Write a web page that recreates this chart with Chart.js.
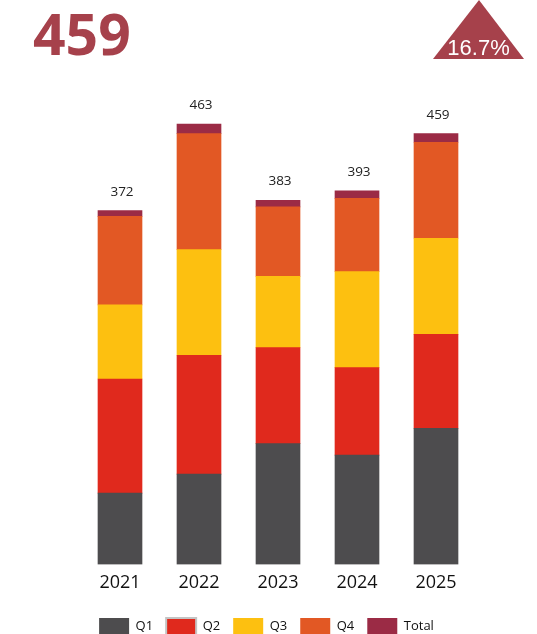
<!DOCTYPE html>
<html>
<head>
<meta charset="utf-8">
<style>
html,body{margin:0;padding:0;background:#fff;overflow:hidden;}
#wrap{position:relative;width:537px;height:645px;}
</style>
<script src="https://cdn.jsdelivr.net/npm/chart.js@4/dist/chart.umd.min.js"></script>
</head>
<body>
<div id="wrap"><canvas id="c" width="537" height="645"></canvas></div>
<script>
const years = ['2021', '2022', '2023', '2024', '2025'];
const q1 = [75, 95, 127, 115, 143];
const q2 = [120, 125, 101, 92, 99];
const q3 = [78, 111, 75, 101, 101];
const q4 = [93, 122, 73, 77, 101];
const totalCap = [6, 10, 7, 8, 9];
const totals = [372, 463, 383, 393, 459];
const headline = '459';
const change = '16.7%';

const colors = {
  q1: '#4d4c4e', q2: '#e0291d', q3: '#fdc010', q4: '#e25824', total: '#9b2b45', accent: '#a6414b'
};

const extras = {
  id: 'extras',
  afterLayout(chart) {
    const lg = chart.legend;
    if (lg) { lg.left -= 11.5; lg.right -= 11.5; }
  },
  afterDraw(chart) {
    const ctx = chart.ctx;
    ctx.save();
    ctx.fillStyle = colors.accent;
    ctx.font = 'bold 57px "Open Sans"';
    ctx.textAlign = 'left';
    ctx.textBaseline = 'alphabetic';
    ctx.fillText(headline, 33, 55);
    ctx.beginPath();
    ctx.moveTo(479, 0);
    ctx.lineTo(524, 59);
    ctx.lineTo(433, 59);
    ctx.closePath();
    ctx.fill();
    ctx.fillStyle = '#ffffff';
    ctx.font = '22px "Liberation Sans"';
    ctx.textAlign = 'center';
    ctx.fillText(change, 478.5, 55);
    const meta = chart.getDatasetMeta(chart.data.datasets.length - 1);
    ctx.fillStyle = '#222';
    ctx.font = '13.5px "Open Sans"';
    ctx.textBaseline = 'middle';
    meta.data.forEach((el, i) => {
      ctx.fillText(String(totals[i]), el.x + 2, el.y - 19);
    });
    ctx.restore();
  }
};

new Chart(document.getElementById('c'), {
  type: 'bar',
  data: {
    labels: years,
    datasets: [
      { label: 'Q1', data: q1, backgroundColor: colors.q1 },
      { label: 'Q2', data: q2, backgroundColor: colors.q2 },
      { label: 'Q3', data: q3, backgroundColor: colors.q3 },
      { label: 'Q4', data: q4, backgroundColor: colors.q4 },
      { label: 'Total', data: totalCap, backgroundColor: colors.total }
    ]
  },
  options: {
    responsive: false,
    animation: false,
    devicePixelRatio: 1,
    datasets: { bar: { barThickness: 44, borderWidth: 0 } },
    layout: { padding: { left: 80.5, right: 61.5, top: 89, bottom: 0 } },
    scales: {
      x: {
        stacked: true,
        grid: { display: false },
        border: { display: false },
        ticks: { color: '#111', font: { family: 'Open Sans', size: 18 }, padding: 0 },
        afterFit(scale) { scale.height += 11; }
      },
      y: {
        stacked: true,
        display: false,
        min: 0,
        max: 500
      }
    },
    plugins: {
      tooltip: { enabled: false },
      legend: {
        position: 'bottom',
        labels: {
          boxWidth: 30,
          boxHeight: 17,
          padding: 13,
          color: '#111',
          font: { family: 'Open Sans', size: 13 },
          generateLabels(chart) {
            const items = Chart.defaults.plugins.legend.labels.generateLabels(chart);
            items.forEach(it => {
              if (it.text === 'Q2') { it.strokeStyle = '#c4c4c4'; it.lineWidth = 2; }
              else { it.lineWidth = 0; }
            });
            return items;
          }
        }
      }
    }
  },
  plugins: [extras]
});
</script>
</body>
</html>
